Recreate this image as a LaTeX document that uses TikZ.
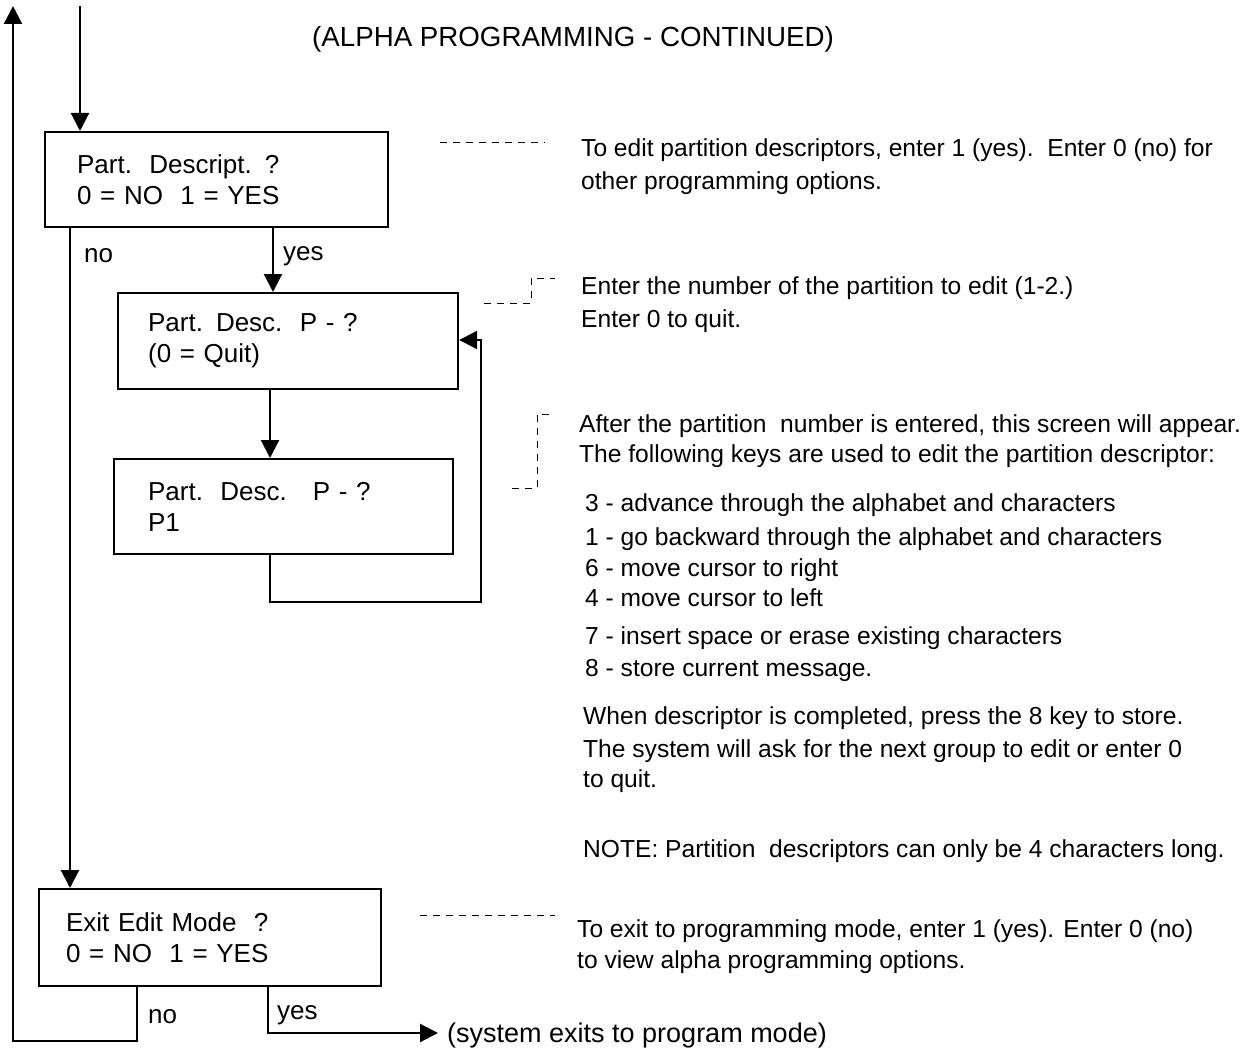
\documentclass[tikz,border=0pt]{standalone}
\usepackage{fontspec}
\setmainfont{Liberation Sans}
\usetikzlibrary{arrows.meta}
\begin{document}
\begin{tikzpicture}[x=1pt,y=-1pt,
  box/.style={draw,line width=2.2pt,align=left,anchor=north west,font=\fontsize{26}{31}\selectfont,inner ysep=0pt},
  arr/.style={line width=2.2pt,-{Triangle[length=18pt,width=18pt]}},
  lead/.style={line width=0.9pt,dash pattern=on 7pt off 6pt},
  rt/.style={anchor=base west,inner sep=0pt,font=\fontsize{24.6}{33}\selectfont},
  lbl/.style={anchor=base west,inner sep=0pt,font=\fontsize{26}{30}\selectfont}]
\useasboundingbox (0,0) rectangle (1254,1049);
% title
\node[lbl,font=\fontsize{27.7}{30}\selectfont] (title) at (312,47) {(ALPHA PROGRAMMING - CONTINUED)};
% boxes
\node[box,minimum width=343pt,minimum height=95pt,text width=279pt,inner xsep=32pt] (b1) at (44,131) {Part.\ \ Descript. ?\\0 = NO\ \ 1 = YES};
\node[box,minimum width=340pt,minimum height=96pt,text width=280pt,inner xsep=30pt] (b2) at (117,292) {Part. Desc.\ \ P - ?\\(0 = Quit)};
\node[box,minimum width=339pt,minimum height=95pt,text width=271pt,inner xsep=34pt] (b3) at (113,458) {Part.\ \ Desc.\ \ \ P - ?\\P1};
\node[box,minimum width=342pt,minimum height=97pt,text width=288pt,inner xsep=27pt] (b4) at (38,888) {Exit Edit Mode\ \ ?\\0 = NO\ \ 1 = YES};
% coordinates
\coordinate (top) at (80,6);
\coordinate (ltop) at (13,6);
\coordinate (xno1) at (70,0);
\coordinate (xyes1) at (273,0);
\coordinate (x23) at (270,0);
\coordinate (loopbl) at (270,602);
\coordinate (loopbr) at (481,602);
\coordinate (looptr) at (481,340);
\coordinate (nocorner) at (137,1041);
\coordinate (yescorner) at (268,1033);
\coordinate (yesend) at (438,1033);
% connectors
\draw[arr] (top) -- (top |- b1.north);
\draw[arr] (b1.south -| xno1) -- (b4.north -| xno1);
\draw[arr] (b1.south -| xyes1) -- (b2.north -| xyes1);
\draw[arr] (b2.south -| x23) -- (b3.north -| x23);
\draw[arr] (b3.south -| x23) -- (loopbl) -- (loopbr) -- (looptr) -- (b2.east |- looptr);
\draw[arr] (b4.south -| nocorner) -- (nocorner) -| (ltop);
\node[lbl,font=\fontsize{27}{30}\selectfont] (exit) at (447,1042) {(system exits to program mode)};
\draw[arr] (b4.south -| yescorner) -- (yescorner) -- (yesend);
\node[lbl] (no1) at (84,262) {no};
\node[lbl] (yes1) at (283,260) {yes};
\node[lbl] (no4) at (148,1023) {no};
\node[lbl] (yes4) at (277,1019) {yes};
% leaders
\draw[lead] (440,142) -- (545,142);
\draw[lead] (484,303) -- (531,303) -- (531,278) -- (555,278);
\draw[lead] (512,488) -- (537,488) -- (537,414) -- (555,414);
\draw[lead] (420,915) -- (555,915);
% right texts
\node[rt] (t1a) at (581,156) {To edit partition descriptors, enter 1 (yes).\ \ Enter 0 (no) for};
\node[rt] (t1b) at (581,189) {other programming options.};
\node[rt] (t2a) at (581,294) {Enter the number of the partition to edit (1-2.)};
\node[rt] (t2b) at (581,327) {Enter 0 to quit.};
\node[rt] (t3a) at (579,432) {After the partition\ \ number is entered, this screen will appear.};
\node[rt] (t3b) at (579,462) {The following keys are used to edit the partition descriptor:};
\node[rt] (k3) at (585,511) {3 - advance through the alphabet and characters};
\node[rt] (k1) at (585,545) {1 - go backward through the alphabet and characters};
\node[rt] (k6) at (585,576) {6 - move cursor to right};
\node[rt] (k4) at (585,606) {4 - move cursor to left};
\node[rt] (k7) at (585,644) {7 - insert space or erase existing characters};
\node[rt] (k8) at (585,676) {8 - store current message.};
\node[rt] (w1) at (583,724) {When descriptor is completed, press the 8 key to store.};
\node[rt] (w2) at (583,757) {The system will ask for the next group to edit or enter 0};
\node[rt] (w3) at (583,787) {to quit.};
\node[rt] (note) at (583,857) {NOTE: Partition\ \ descriptors can only be 4 characters long.};
\node[rt] (t4a) at (577,937) {To exit to programming mode, enter 1 (yes). Enter 0 (no)};
\node[rt] (t4b) at (577,968) {to view alpha programming options.};
\end{tikzpicture}
\end{document}
